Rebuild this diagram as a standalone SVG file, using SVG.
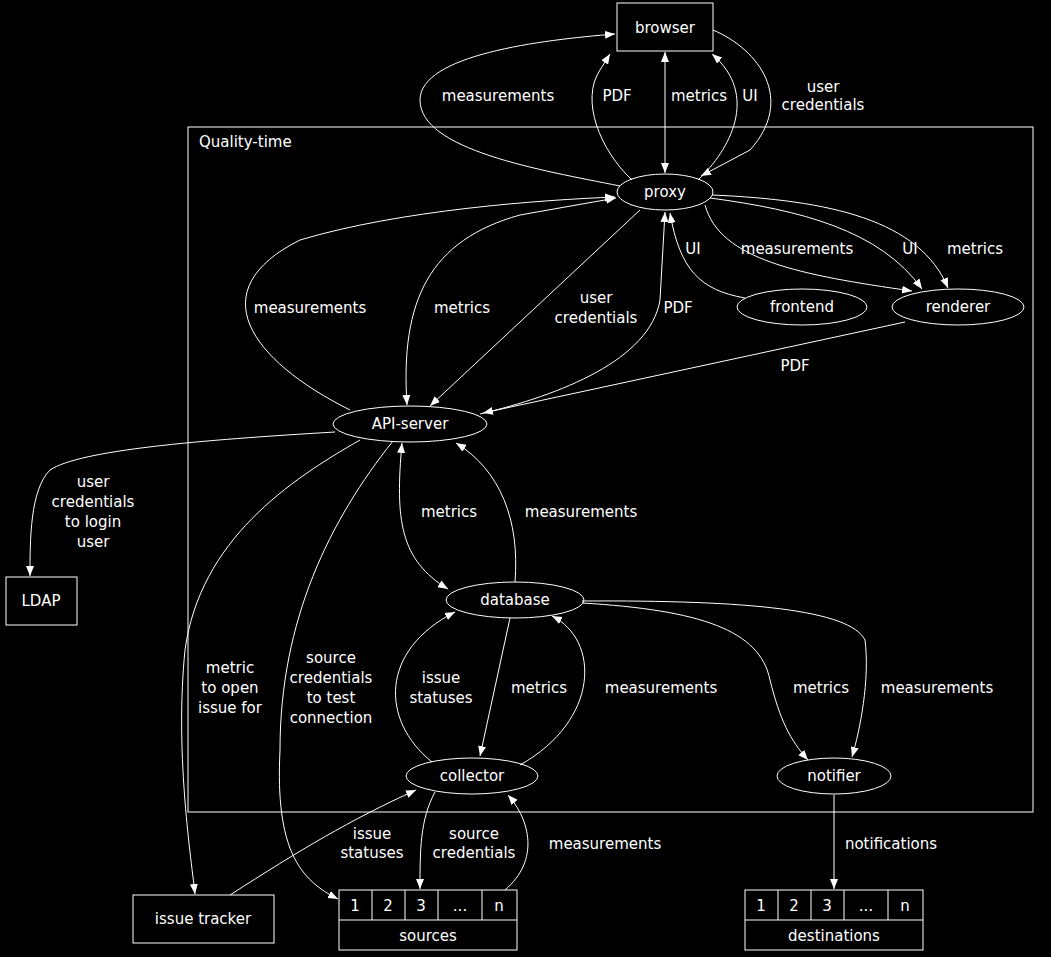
<svg xmlns="http://www.w3.org/2000/svg" width="1051" height="957" viewBox="0 0 1051 957">
<defs>
<marker id="a" viewBox="0 0 10 10" refX="10" refY="5" markerWidth="10" markerHeight="10" markerUnits="userSpaceOnUse" orient="auto-start-reverse"><path d="M0,1 L10,5 L0,9 z" fill="#fff"/></marker>
</defs>
<style>
text{font-family:"DejaVu Sans",sans-serif;font-size:15px;fill:#fff;text-anchor:middle}
.n{fill:none;stroke:#fff;stroke-width:1}
.e path{fill:none;stroke:#fff;stroke-width:1;marker-end:url(#a)}
.e path.b{marker-start:url(#a)}
</style>
<rect width="1051" height="957" fill="#000"/>
<g id="cluster"><rect class="n" x="188" y="127" width="845" height="685"/><text x="199" y="147" style="text-anchor:start">Quality-time</text></g>
<g id="browser"><rect class="n" x="617" y="3" width="96" height="48"/><text x="665" y="33">browser</text></g>
<g id="proxy"><ellipse class="n" cx="665" cy="192" rx="48" ry="18"/><text x="665" y="197">proxy</text></g>
<g id="frontend"><ellipse class="n" cx="802" cy="307" rx="65" ry="18"/><text x="802" y="312">frontend</text></g>
<g id="renderer"><ellipse class="n" cx="958" cy="307" rx="66" ry="18"/><text x="958" y="312">renderer</text></g>
<g id="api"><ellipse class="n" cx="410" cy="424" rx="77" ry="18"/><text x="410" y="429">API-server</text></g>
<g id="ldap"><rect class="n" x="6" y="577" width="71" height="48"/><text x="41" y="606">LDAP</text></g>
<g id="database"><ellipse class="n" cx="515" cy="600" rx="69" ry="18"/><text x="515" y="605">database</text></g>
<g id="collector"><ellipse class="n" cx="472" cy="776" rx="66" ry="18"/><text x="472" y="781">collector</text></g>
<g id="notifier"><ellipse class="n" cx="834" cy="776" rx="57" ry="18"/><text x="834" y="781">notifier</text></g>
<g id="issuetracker"><rect class="n" x="133" y="895" width="141" height="48"/><text x="203" y="924">issue tracker</text></g>
<g id="sources"><rect class="n" x="339" y="890" width="178" height="60"/><path class="n" d="M339,920H517M372,890V920M405,890V920M438,890V920M482,890V920"/>
<text x="355" y="911">1</text><text x="388" y="911">2</text><text x="421" y="911">3</text><text x="460" y="911">...</text><text x="499" y="911">n</text><text x="428" y="941">sources</text></g>
<g id="destinations"><rect class="n" x="745" y="890" width="178" height="60"/><path class="n" d="M745,920H923M778,890V920M811,890V920M844,890V920M888,890V920"/>
<text x="761" y="911">1</text><text x="794" y="911">2</text><text x="827" y="911">3</text><text x="866" y="911">...</text><text x="905" y="911">n</text><text x="834" y="941">destinations</text></g>
<g class="e" id="edges">
<path d="M620,186 C540,170 420,150 420,100 C420,55 540,40 615,34"/>
<path d="M632,180 C600,150 580,100 600,70 L610,54"/>
<path class="b" d="M665,52 L665,173"/>
<path d="M698,180 C730,150 760,95 712,54"/>
<path d="M713,30 C760,50 795,100 750,150 L701,176"/>
<path d="M350,410 C250,360 200,290 300,240 C400,210 540,200 615,197"/>
<path class="b" d="M407,405 C400,300 430,240 520,215 L616,198"/>
<path d="M640,210 L430,406"/>
<path d="M480,414 C560,395 650,360 660,300 L665,212"/>
<path d="M745,298 C700,290 680,270 670,213"/>
<path d="M705,205 C720,260 800,275 912,291"/>
<path d="M710,198 C800,210 880,230 922,289"/>
<path d="M712,195 C830,200 920,220 948,288"/>
<path d="M905,322 L483,413"/>
<path d="M335,432 C200,440 80,450 50,470 C30,490 30,540 30,576"/>
<path d="M360,440 C290,480 200,540 185,650 C175,750 190,850 195,894"/>
<path d="M393,441 C330,520 280,620 280,750 C275,850 300,880 338,899"/>
<path class="b" d="M402,443 C395,520 400,560 448,589"/>
<path d="M515,582 C520,520 500,470 456,443"/>
<path d="M432,762 C380,720 380,650 455,612"/>
<path d="M510,618 L480,756"/>
<path d="M520,765 C600,720 600,640 552,616"/>
<path d="M582,603 C700,610 760,630 770,680 C780,720 790,740 808,760"/>
<path d="M582,601 C750,600 850,610 865,640 C870,680 860,730 852,757"/>
<path d="M230,895 C300,850 350,820 416,790"/>
<path d="M435,792 C420,820 420,850 420,889"/>
<path d="M505,890 C540,860 530,820 508,795"/>
<path d="M834,795 L834,889"/>
</g>
<g id="labels">
<text x="498" y="101">measurements</text><text x="617" y="101">PDF</text><text x="699" y="101">metrics</text><text x="750" y="101">UI</text>
<text x="823" y="92">user</text><text x="823" y="110">credentials</text>
<text x="310" y="313">measurements</text><text x="462" y="313">metrics</text>
<text x="596" y="303">user</text><text x="596" y="323">credentials</text><text x="678" y="313">PDF</text>
<text x="693" y="254">UI</text><text x="797" y="254">measurements</text><text x="910" y="254">UI</text><text x="975" y="254">metrics</text>
<text x="795" y="371">PDF</text>
<text x="93" y="487">user</text><text x="93" y="507">credentials</text><text x="93" y="527">to login</text><text x="93" y="547">user</text>
<text x="230" y="673">metric</text><text x="230" y="693">to open</text><text x="230" y="713">issue for</text>
<text x="331" y="663">source</text><text x="331" y="683">credentials</text><text x="331" y="703">to test</text><text x="331" y="723">connection</text>
<text x="449" y="517">metrics</text><text x="581" y="517">measurements</text>
<text x="441" y="683">issue</text><text x="441" y="703">statuses</text><text x="539" y="693">metrics</text><text x="661" y="693">measurements</text>
<text x="821" y="693">metrics</text><text x="937" y="693">measurements</text>
<text x="372" y="839">issue</text><text x="372" y="858">statuses</text>
<text x="474" y="839">source</text><text x="474" y="858">credentials</text>
<text x="605" y="849">measurements</text><text x="891" y="849">notifications</text>
</g>
</svg>
